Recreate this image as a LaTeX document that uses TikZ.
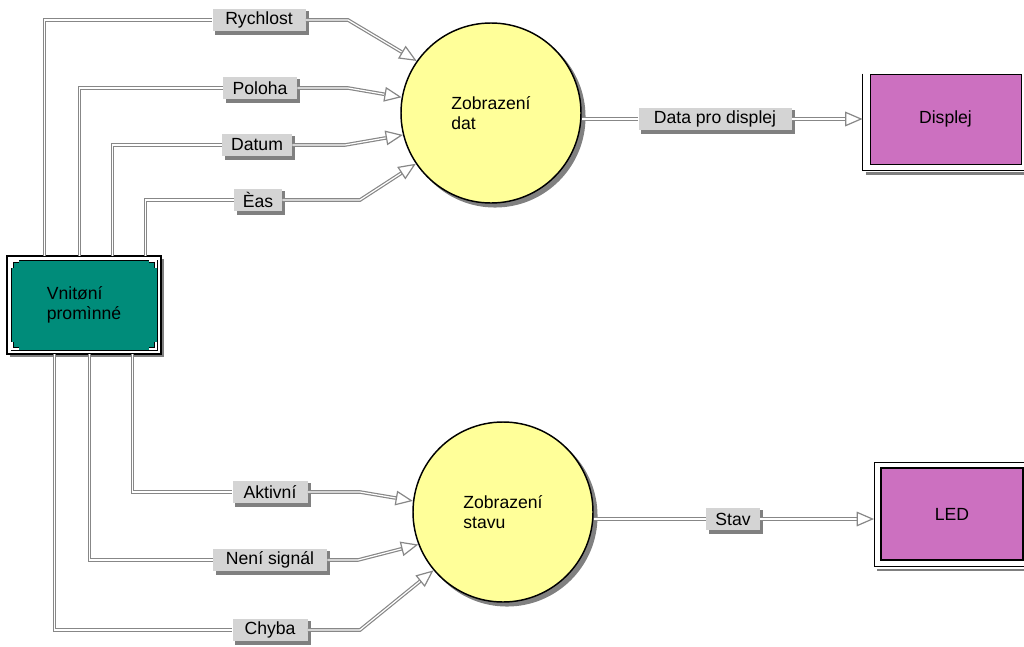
\documentclass[tikz,border=0pt]{standalone}
\usepackage{fontspec}
\setmainfont{Liberation Sans}
\usetikzlibrary{arrows.meta,calc,backgrounds}
\definecolor{procyellow}{RGB}{255,255,153}
\definecolor{vpgreen}{RGB}{0,140,122}
\definecolor{extpink}{RGB}{204,112,192}
\definecolor{labgray}{RGB}{212,212,212}
\definecolor{shgray}{RGB}{128,128,128}
\definecolor{linegray}{RGB}{135,135,135}
\begin{document}
\begin{tikzpicture}[x=0.75pt,y=-0.75pt,
  conn/.style={draw=linegray, line width=0.9pt, double=white, double distance=0.9pt},
  tipst/.style={draw=linegray, line width=0.9pt, -{Triangle[length=13pt,width=11pt,fill=white]}},
  lab/.style={fill=labgray, inner xsep=2pt, inner ysep=0pt, minimum height=17pt,
    font=\fontsize{13.2}{15}\selectfont},
  proc/.style={circle, draw=black, line width=1.1pt, fill=procyellow, minimum size=135pt,
    align=left, font=\fontsize{13.2}{15.5}\selectfont},
  vpbox/.style={rectangle, draw=black, line width=0.5pt, fill=vpgreen, minimum width=109.5pt,
    minimum height=67.5pt, align=left, font=\fontsize{13.2}{15.5}\selectfont},
  extbox/.style={rectangle, draw=black, fill=extpink, font=\fontsize{13.2}{15.5}\selectfont}
]
\useasboundingbox (0,0) rectangle (1024,646);

% main nodes
\node[vpbox] (vp) at (84,305) {Vnitøní\\promìnné};
\node[proc] (c1) at (491,113) {Zobrazení\\dat};
\node[proc] (c2) at (503,512) {Zobrazení\\stavu};
\node[extbox, line width=0.7pt, minimum width=113.25pt, minimum height=67.5pt] (dsp) at (945.5,119) {Displej};
\node[extbox, line width=1.5pt, minimum width=106.5pt, minimum height=69pt] (led) at (952,514) {LED};

% labels
\node[lab, minimum width=69.75pt] (lR) at (259,20) {Rychlost};
\node[lab, minimum width=55.5pt] (lP) at (260,88) {Poloha};
\node[lab, minimum width=52.5pt] (lD) at (257,145) {Datum};
\node[lab, minimum width=36pt] (lC) at (258,200) {Èas};
\node[lab, minimum width=56.25pt] (lA) at (270,492) {Aktivní};
\node[lab, minimum width=85.5pt] (lN) at (270,560) {Není signál};
\node[lab, minimum width=56.25pt] (lCh) at (270,630) {Chyba};
\node[lab, minimum width=114.75pt] (lDp) at (715,119) {Data pro displej};
\node[lab, minimum width=40.5pt] (lS) at (733,519) {Stav};

% shadows and frames on background
\begin{scope}[on background layer]
  \foreach \n in {lR,lP,lD,lC,lA,lN,lCh,lDp,lS}{
    \fill[shgray] ($(\n.north west)+(3,3)$) rectangle ($(\n.south east)+(3,3)$);
  }
  \fill[shgray] ($(c1.center)+(4,4)$) circle[radius=67.9pt];
  \fill[shgray] ($(c2.center)+(4,4)$) circle[radius=67.9pt];
  \fill[shgray] ($(vp.north west)+(-1,-1)$) rectangle ($(vp.south east)+(7,7)$);
  \draw[line width=1.5pt, fill=white] ($(vp.north west)+(-4,-4)$) rectangle ($(vp.south east)+(4,4)$);
  \draw[shgray, line width=2pt] ($(dsp.south west)+(-4,9)$) -- ($(dsp.south east)+(6,9)$);
  \draw[line width=0.8pt] ($(dsp.north west)+(-7,0)$) |- ($(dsp.south east)+(3,6)$) -- ($(dsp.north east)+(3,0)$);
  \draw[shgray, line width=2pt] ($(led.south west)+(-3,9)$) -- ($(led.south east)+(8,9)$);
  \draw[line width=0.7pt] ($(led.north west)+(-6,-5)$) rectangle ($(led.south east)+(6,5)$);
\end{scope}

% corner notches of the store box
\foreach \c/\sx/\sy in {north west/1/1, north east/-1/1, south west/1/-1, south east/-1/-1}{
  \draw[black, line width=2.4pt] ($(vp.\c)+(1.5*\sx,8*\sy)$) -- ++(0,-6.5*\sy) -- ++(6.5*\sx,0);
  \draw[white, line width=1.1pt] ($(vp.\c)+(1.5*\sx,8*\sy)$) -- ++(0,-6.5*\sy) -- ++(6.5*\sx,0);
}

% bend points
\coordinate (kR) at (348,20);
\coordinate (kP) at (348,88);
\coordinate (kD) at (345,145);
\coordinate (kC) at (360,200);
\coordinate (kA) at (360,492);
\coordinate (kN) at (358,560);
\coordinate (kCh) at (360,630);

% tip bases
\coordinate (tR) at ($(c1.145)!13pt!(kR)$);
\coordinate (tP) at ($(c1.170)!13pt!(kP)$);
\coordinate (tD) at ($(c1.194)!13pt!(kD)$);
\coordinate (tC) at ($(c1.214)!13pt!(kC)$);
\coordinate (tA) at ($(c2.173)!13pt!(kA)$);
\coordinate (tN) at ($(c2.201)!13pt!(kN)$);
\coordinate (tCh) at ($(c2.220)!13pt!(kCh)$);
\coordinate (dspE) at ($(dsp.west)+(-7,0)$);
\coordinate (ledE) at ($(led.west |- lS.east)+(-6,0)$);
\coordinate (tDp) at ($(dspE)+(-17.3,0)$);
\coordinate (tS) at ($(ledE)+(-17.3,0)$);

% inputs to Zobrazeni dat
\draw[conn] ($(vp.north west)+(34,-4)$) |- (lR.west);
\draw[conn] (lR.east) -- (kR) -- (tR);
\draw[tipst] (tR) -- (c1.145);
\draw[conn] ($(vp.north west)+(69,-4)$) |- (lP.west);
\draw[conn] (lP.east) -- (kP) -- (tP);
\draw[tipst] (tP) -- (c1.170);
\draw[conn] ($(vp.north west)+(102,-4)$) |- (lD.west);
\draw[conn] (lD.east) -- (kD) -- (tD);
\draw[tipst] (tD) -- (c1.194);
\draw[conn] ($(vp.north west)+(135,-4)$) |- (lC.west);
\draw[conn] (lC.east) -- (kC) -- (tC);
\draw[tipst] (tC) -- (c1.214);

% inputs to Zobrazeni stavu
\draw[conn] ($(vp.south west)+(122,4)$) |- (lA.west);
\draw[conn] (lA.east) -- (kA) -- (tA);
\draw[tipst] (tA) -- (c2.173);
\draw[conn] ($(vp.south west)+(79,4)$) |- (lN.west);
\draw[conn] (lN.east) -- (kN) -- (tN);
\draw[tipst] (tN) -- (c2.201);
\draw[conn] ($(vp.south west)+(44,4)$) |- (lCh.west);
\draw[conn] (lCh.east) -- (kCh) -- (tCh);
\draw[tipst] (tCh) -- (c2.220);

% outputs
\draw[conn] (c1.east |- lDp.west) -- (lDp.west);
\draw[conn] (lDp.east) -- (tDp);
\draw[tipst] (tDp) -- (dspE);
\draw[conn] (c2.east |- lS.west) -- (lS.west);
\draw[conn] (lS.east) -- (tS);
\draw[tipst] (tS) -- (ledE);
\end{tikzpicture}
\end{document}
